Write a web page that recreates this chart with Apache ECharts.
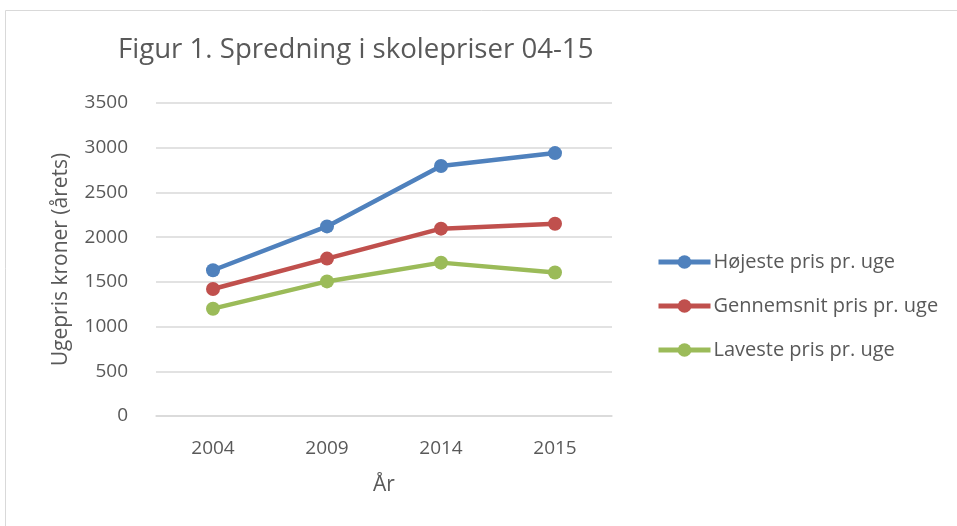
<!DOCTYPE html>
<html>
<head>
<meta charset="utf-8">
<script src="https://cdn.jsdelivr.net/npm/echarts@6/dist/echarts.min.js"></script>
<style>
  html, body { margin: 0; padding: 0; background: #fff; }
  #chart { width: 957px; height: 526px; }
</style>
</head>
<body>
<div id="chart"></div>
<script>
var years = ['2004', '2009', '2014', '2015'];
var hoejeste = [1630, 2120, 2795, 2940];
var gennemsnit = [1420, 1760, 2095, 2150];
var laveste = [1200, 1505, 1715, 1605];

var txt = '#595959';
var font = 'Open Sans';

var myChart = echarts.init(document.getElementById('chart'));

var option = {
    animation: false,
    backgroundColor: '#fff',
    title: {
        text: 'Figur 1. Spredning i skolepriser 04-15',
        left: 113,
        top: 31,
        textStyle: { color: txt, fontSize: 27.6, fontWeight: 'normal', fontFamily: font }
    },
    graphic: [{
        type: 'rect',
        shape: { x: 5.5, y: 10.5, width: 960, height: 530 },
        style: { fill: 'none', stroke: '#d9d9d9', lineWidth: 1 }
    }],
    legend: {
        orient: 'vertical',
        left: 651,
        top: 247,
        itemWidth: 52,
        itemHeight: 17,
        itemGap: 24,
        lineStyle: { width: 5 },
        textStyle: { color: txt, fontSize: 20, lineHeight: 20, fontFamily: font, padding: [0, 0, 0, -2] },
        data: ['Højeste pris pr. uge', 'Gennemsnit pris pr. uge', 'Laveste pris pr. uge']
    },
    grid: { left: 156, right: 345, top: 103, bottom: 110 },
    xAxis: {
        type: 'category',
        data: years,
        name: 'År',
        nameLocation: 'middle',
        nameGap: 59,
        nameTextStyle: { color: txt, fontSize: 21, fontFamily: font },
        axisLine: { lineStyle: { color: '#d9d9d9', width: 1.5 } },
        axisTick: { show: false },
        axisLabel: { color: txt, fontSize: 19, fontFamily: font, margin: 23 }
    },
    yAxis: {
        type: 'value',
        min: 0,
        max: 3500,
        interval: 500,
        name: 'Ugepris kroner (årets)',
        nameLocation: 'middle',
        nameGap: 84,
        nameTextStyle: { color: txt, fontSize: 21, fontFamily: font },
        axisLine: { show: false },
        axisTick: { show: false },
        axisLabel: { color: txt, fontSize: 19, fontFamily: font, margin: 28, formatter: function (v) { return String(v); } },
        splitLine: { lineStyle: { color: '#d9d9d9', width: 1.5 } }
    },
    series: [
        {
            name: 'Højeste pris pr. uge',
            type: 'line',
            data: hoejeste,
            symbol: 'circle',
            symbolSize: 14,
            color: '#4F81BD',
            lineStyle: { width: 4.5 }
        },
        {
            name: 'Gennemsnit pris pr. uge',
            type: 'line',
            data: gennemsnit,
            symbol: 'circle',
            symbolSize: 14,
            color: '#C0504D',
            lineStyle: { width: 4.5 }
        },
        {
            name: 'Laveste pris pr. uge',
            type: 'line',
            data: laveste,
            symbol: 'circle',
            symbolSize: 14,
            color: '#9BBB59',
            lineStyle: { width: 4.5 }
        }
    ]
};

myChart.setOption(option);
</script>
</body>
</html>
